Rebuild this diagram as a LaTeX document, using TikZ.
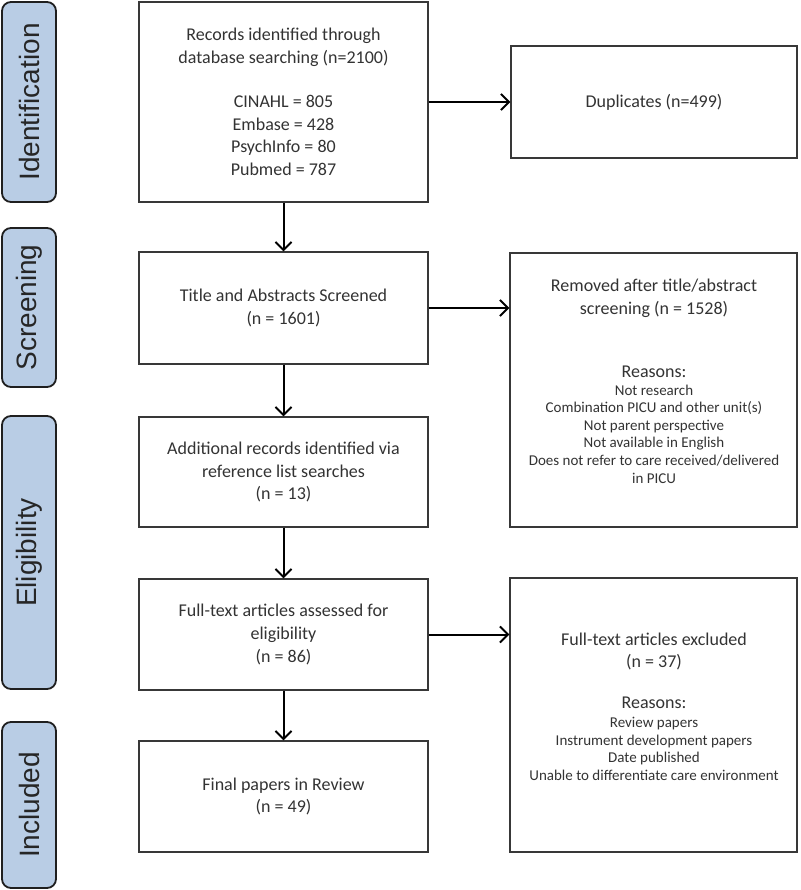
\documentclass[tikz,border=0pt]{standalone}
\usepackage{fontspec}
\setmainfont{Carlito}
\newfontfamily\calib{Carlito}
\newfontfamily\arialf{Liberation Sans}
\usetikzlibrary{arrows.meta}
\definecolor{barblue}{HTML}{B9CDE5}
\definecolor{txtgray}{HTML}{333333}
\tikzset{
  x=1pt, y=-1pt,
  box/.style={draw=black!78, line width=1.3pt, fill=white, inner sep=0pt, align=center,
    text=txtgray, font={\calib\fontsize{18}{22.8}\selectfont}},
  bar/.style={draw=black!88, line width=1.8pt, fill=barblue, rounded corners=9pt,
    minimum width=54pt, inner sep=0pt},
  barlabel/.style={rotate=90, font={\arialf\fontsize{28}{32}\selectfont}, text=black!85},
  maintxt/.style={align=center, text=txtgray, inner sep=0pt, font={\calib\fontsize{18}{22.8}\selectfont}},
  smalltxt/.style={align=center, text=txtgray, inner sep=0pt, font={\calib\fontsize{15}{17.6}\selectfont}},
  arr/.style={line width=2pt, draw=black, -{Straight Barb[length=8pt,width=16pt,line width=2pt]}}
}
\begin{document}
\begin{tikzpicture}
\useasboundingbox (0,0) rectangle (800,890);
% side bars
\node[bar, minimum height=200pt] (bid) at (29,102) {};
\node[barlabel] (lid) at (bid.center) {Identification};
\node[bar, minimum height=159pt] (bsc) at (29,307.5) {};
\node[barlabel] (lsc) at (bsc.center) {Screening};
\node[bar, minimum height=273pt] (bel) at (29,552.5) {};
\node[barlabel] (lel) at (bel.center) {Eligibility};
\node[bar, minimum height=166pt] (bin) at (29,805) {};
\node[barlabel] (lin) at (bin.center) {Included};
% main boxes
\node[box, minimum width=289pt, minimum height=200pt] (b1) at (283.5,102)
  {Records identified through\\ database searching (n=2100)\\[21pt]
   CINAHL = 805\\ Embase = 428\\ PsychInfo = 80\\ Pubmed = 787};
\node[box, minimum width=289pt, minimum height=112pt] (b2) at (283.5,308)
  {Title and Abstracts Screened\\ (n = 1601)};
\node[box, minimum width=289pt, minimum height=110pt] (b3) at (283.5,472)
  {Additional records identified via\\ reference list searches\\ (n = 13)};
\node[box, minimum width=289pt, minimum height=111pt] (b4) at (283.5,634.5)
  {Full-text articles assessed for\\ eligibility\\ (n = 86)};
\node[box, minimum width=289pt, minimum height=111pt] (b5) at (283.5,796.5)
  {Final papers in Review\\ (n = 49)};
% right boxes
\node[box, minimum width=286pt, minimum height=112pt] (dup) at (654,102)
  {Duplicates (n=499)};
\node[box, minimum width=287pt, minimum height=274pt] (rem) at (653.5,390) {};
\node[maintxt] (remt) at (654,298.5) {Removed after title/abstract\\ screening (n = 1528)};
\node[maintxt] (remr) at (654,372) {Reasons:};
\node[smalltxt] (reml) at (654,434) {Not research\\ Combination PICU and other unit(s)\\ Not parent perspective\\ Not available in English\\ Does not refer to care received/delivered\\ in PICU};
\node[box, minimum width=287pt, minimum height=274pt] (exc) at (653.5,715) {};
\node[maintxt] (exct) at (654,651.5) {Full-text articles excluded\\ (n = 37)};
\node[maintxt] (excr) at (654,703) {Reasons:};
\node[smalltxt] (excl) at (654,749) {Review papers\\ Instrument development papers\\ Date published\\ Unable to differentiate care environment};
% arrows
\draw[arr] (b1.south) -- (b2.north);
\draw[arr] (b2.south) -- (b3.north);
\draw[arr] (b3.south) -- (b4.north);
\draw[arr] (b4.south) -- (b5.north);
\draw[arr] (b1.east) -- (dup.west);
\draw[arr] (b2.east) -- (b2.east -| rem.west);
\draw[arr] (b4.east) -- (b4.east -| exc.west);
\end{tikzpicture}
\end{document}
